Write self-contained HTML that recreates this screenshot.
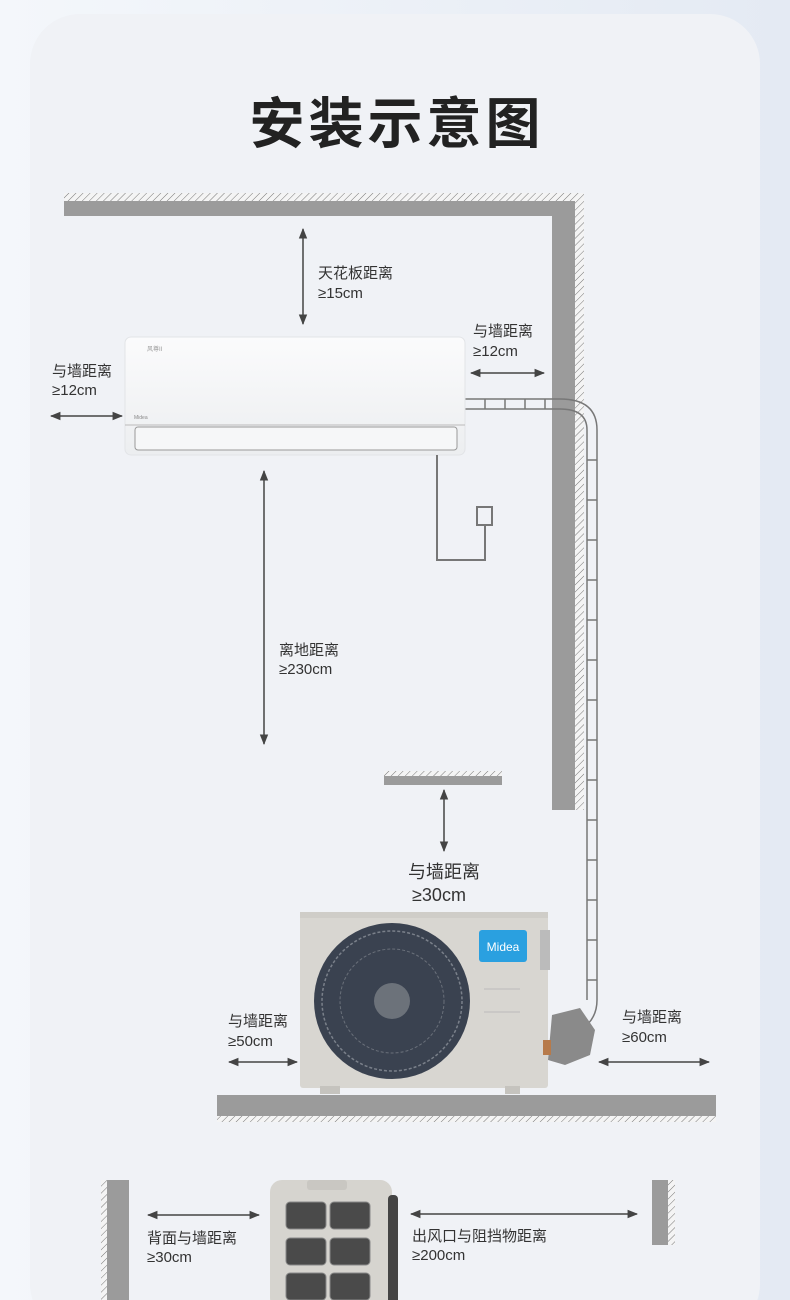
<!DOCTYPE html>
<html><head><meta charset="utf-8"><style>
html,body{margin:0;padding:0}
body{width:790px;height:1300px;overflow:hidden;background:linear-gradient(90deg,#f4f7fb,#e4eaf3);font-family:"Liberation Sans","Noto Sans CJK SC",sans-serif}
svg{display:block}
text{font-family:"Liberation Sans","Noto Sans CJK SC",sans-serif;fill:#333}
</style></head><body>
<svg width="790" height="1300" viewBox="0 0 790 1300" xmlns="http://www.w3.org/2000/svg">
<defs>
<pattern id="h" width="5" height="5" patternUnits="userSpaceOnUse" patternTransform="rotate(45)">
<rect width="5" height="5" fill="#f4f4f4"/><line x1="0" y1="0" x2="0" y2="5" stroke="#777" stroke-width="1"/></pattern>
<marker id="a" viewBox="0 0 10 10" refX="9" refY="5" markerWidth="7" markerHeight="7" orient="auto-start-reverse"><path d="M0,1 L10,5 L0,9 z" fill="#444"/></marker>
<linearGradient id="iu" x1="0" y1="0" x2="0" y2="1"><stop offset="0" stop-color="#fbfbfc"/><stop offset="1" stop-color="#eceef0"/></linearGradient>
</defs>
<rect x="30" y="14" width="730" height="1320" rx="50" fill="#f0f2f6"/>
<text x="397" y="143" font-size="55" font-weight="bold" text-anchor="middle" letter-spacing="4" style="fill:#222">安装示意图</text>

<rect x="64" y="193" width="520" height="8" fill="url(#h)"/>
<rect x="64" y="201" width="511" height="15" fill="#9b9b9b"/>
<rect x="552" y="201" width="23" height="609" fill="#9b9b9b"/>
<rect x="575" y="193" width="9" height="617" fill="url(#h)"/>

<g fill="none" stroke="#777" stroke-width="1.5">
<path d="M465,399 H560 Q597,399 597,430 V1000 Q597,1020 580,1030"/>
<path d="M465,409 H560 Q587,409 587,430 V1000"/>
</g>
<g stroke="#777" stroke-width="1.5">
<line x1="485" y1="399" x2="485" y2="409"/><line x1="505" y1="399" x2="505" y2="409"/><line x1="525" y1="399" x2="525" y2="409"/><line x1="545" y1="399" x2="545" y2="409"/>
<line x1="587" y1="460" x2="597" y2="460"/><line x1="587" y1="500" x2="597" y2="500"/><line x1="587" y1="540" x2="597" y2="540"/><line x1="587" y1="580" x2="597" y2="580"/><line x1="587" y1="620" x2="597" y2="620"/><line x1="587" y1="660" x2="597" y2="660"/><line x1="587" y1="700" x2="597" y2="700"/><line x1="587" y1="740" x2="597" y2="740"/><line x1="587" y1="780" x2="597" y2="780"/><line x1="587" y1="820" x2="597" y2="820"/><line x1="587" y1="860" x2="597" y2="860"/><line x1="587" y1="900" x2="597" y2="900"/><line x1="587" y1="940" x2="597" y2="940"/><line x1="587" y1="980" x2="597" y2="980"/>
</g>
<path d="M552,1015 L580,1008 L595,1030 L590,1055 L565,1065 L548,1060 Z" fill="#8a8a8a"/>

<rect x="125" y="337" width="340" height="118" rx="6" fill="url(#iu)" stroke="#e2e4e7"/>
<rect x="135" y="427" width="322" height="23" rx="3" fill="#f6f7f8" stroke="#999" stroke-width="1"/>
<line x1="125" y1="425" x2="465" y2="425" stroke="#bbb"/>
<text x="147" y="351" font-size="6" style="fill:#999">风尊II</text>
<text x="134" y="419" font-size="5" style="fill:#888">Midea</text>

<path d="M437,455 V560 H485 V525" fill="none" stroke="#777" stroke-width="2"/>
<rect x="477" y="507" width="15" height="18" fill="none" stroke="#777" stroke-width="2"/>

<g stroke="#444" stroke-width="1.5" marker-start="url(#a)" marker-end="url(#a)">
<line x1="303" y1="229" x2="303" y2="324"/>
<line x1="471" y1="373" x2="544" y2="373"/>
<line x1="51" y1="416" x2="122" y2="416"/>
<line x1="264" y1="471" x2="264" y2="744"/>
<line x1="444" y1="790" x2="444" y2="851"/>
<line x1="229" y1="1062" x2="297" y2="1062"/>
<line x1="599" y1="1062" x2="709" y2="1062"/>
<line x1="148" y1="1215" x2="259" y2="1215"/>
<line x1="411" y1="1214" x2="637" y2="1214"/>
</g>

<g font-size="15">
<text x="318" y="278">天花板距离</text><text x="318" y="298">≥15cm</text>
<text x="473" y="336">与墙距离</text><text x="473" y="356">≥12cm</text>
<text x="52" y="376">与墙距离</text><text x="52" y="395">≥12cm</text>
<text x="279" y="655">离地距离</text><text x="279" y="674">≥230cm</text>
<text x="228" y="1026">与墙距离</text><text x="228" y="1046">≥50cm</text>
<text x="622" y="1022">与墙距离</text><text x="622" y="1042">≥60cm</text>
<text x="147" y="1243">背面与墙距离</text><text x="147" y="1262">≥30cm</text>
<text x="412" y="1241">出风口与阻挡物距离</text><text x="412" y="1260">≥200cm</text>
</g>
<text x="444" y="878" font-size="18" text-anchor="middle">与墙距离</text>
<text x="439" y="901" font-size="18" text-anchor="middle">≥30cm</text>

<rect x="384" y="771" width="118" height="5" fill="url(#h)"/>
<rect x="384" y="776" width="118" height="9" fill="#9b9b9b"/>

<rect x="300" y="912" width="248" height="176" rx="3" fill="#d8d6d1"/>
<rect x="300" y="912" width="248" height="6" fill="#cfcdc8"/>
<rect x="540" y="930" width="10" height="40" fill="#bbb"/>
<rect x="320" y="1086" width="20" height="8" fill="#c5c3be"/>
<rect x="505" y="1086" width="15" height="8" fill="#c5c3be"/>
<circle cx="392" cy="1001" r="78" fill="#3a4250"/>
<circle cx="392" cy="1001" r="70" fill="none" stroke="#7a808a" stroke-width="1.5" stroke-dasharray="3 2"/>
<circle cx="392" cy="1001" r="52" fill="none" stroke="#6a707a" stroke-width="1" stroke-dasharray="3 2"/>
<circle cx="392" cy="1001" r="18" fill="#6c727a"/>
<rect x="479" y="930" width="48" height="32" rx="3" fill="#2aa0e0"/>
<text x="503" y="951" font-size="12" text-anchor="middle" style="fill:#fff">Midea</text>
<line x1="484" y1="989" x2="520" y2="989" stroke="#bbb"/>
<line x1="484" y1="1012" x2="520" y2="1012" stroke="#bbb"/>
<rect x="543" y="1040" width="8" height="15" fill="#b77a4a"/>

<rect x="217" y="1095" width="499" height="21" fill="#9b9b9b"/>
<rect x="217" y="1116" width="499" height="6" fill="url(#h)"/>

<rect x="101" y="1180" width="6" height="120" fill="url(#h)"/>
<rect x="107" y="1180" width="22" height="120" fill="#9b9b9b"/>
<rect x="652" y="1180" width="16" height="65" fill="#9b9b9b"/>
<rect x="668" y="1180" width="7" height="65" fill="url(#h)"/>
<rect x="270" y="1180" width="122" height="130" rx="12" fill="#d6d4cf"/>
<rect x="388" y="1195" width="10" height="110" rx="4" fill="#444"/>
<rect x="307" y="1180" width="40" height="10" rx="3" fill="#c9c7c2"/>
<g fill="#4a4a4a" stroke="#888">
<rect x="286" y="1202" width="40" height="27" rx="4"/><rect x="330" y="1202" width="40" height="27" rx="4"/>
<rect x="286" y="1238" width="40" height="27" rx="4"/><rect x="330" y="1238" width="40" height="27" rx="4"/>
<rect x="286" y="1273" width="40" height="27" rx="4"/><rect x="330" y="1273" width="40" height="27" rx="4"/>
</g>
</svg>
</body></html>
